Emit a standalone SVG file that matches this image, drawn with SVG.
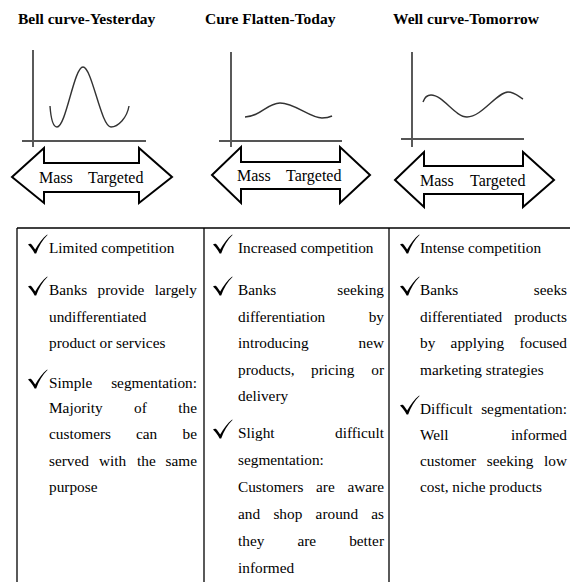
<svg xmlns="http://www.w3.org/2000/svg" width="570" height="582" viewBox="0 0 570 582">
  <style>
    text { font-family: "Liberation Serif", "DejaVu Serif", "Times New Roman", serif; fill: #000; }
    .hdr { font-weight: bold; font-size: 15.5px; }
    .body { font-size: 15.3px; }
    .lbl { font-size: 16px; }
    .end { text-anchor: end; }
    .yaxis { stroke: #000; stroke-width: 1.3; fill: none; }
    .xaxis { stroke: #555; stroke-width: 2; fill: none; }
    .curve { stroke: #333; stroke-width: 1.4; fill: none; }
    .dbl { fill: #fff; stroke: #000; stroke-width: 2; stroke-linejoin: miter; }
    .grid { stroke: #000; stroke-width: 1.3; fill: none; }
  </style>
  <defs>
    <!-- check-mark bullet, origin at the lower-left of its box -->
    <path id="tick" d="M0,-8.5 C1.8,-10 3.4,-9.4 4.4,-7.6 L7.2,-3.6 C10.5,-9.5 14.5,-15 19.2,-18.6 L19.5,-18 C14.8,-13.4 10.6,-7 8.2,0.6 L6.6,0.6 C5,-3 2.6,-6 0,-8.5 Z" fill="#000"/>
  </defs>

  <!-- column 1: bell curve -->
  <g id="panel-yesterday">
    <text class="hdr" x="18" y="24">Bell curve-Yesterday</text>
    <line class="yaxis" x1="33" y1="50" x2="33" y2="147"/>
    <line class="xaxis" x1="22" y1="141" x2="146" y2="141"/>
    <path class="curve" d="M50,106 C51,120 53,127 57,127 C66,127 74,67 83,67 C92,67 101,127 111,127 C118,127 127,118 129,106"/>
    <polygon class="dbl" points="12,177 44,148 44,163 139,163 139,148 172,177 139,203 139,192 44,192 44,203"/>
    <text class="lbl" x="39" y="183">Mass</text>
    <text class="lbl" x="88" y="183">Targeted</text>
  </g>

  <!-- column 2: flattened curve -->
  <g id="panel-today">
    <text class="hdr" x="205" y="24">Cure Flatten-Today</text>
    <line class="yaxis" x1="231" y1="52" x2="231" y2="147"/>
    <line class="xaxis" x1="219" y1="141" x2="342" y2="141"/>
    <path class="curve" d="M245,117 C260,117 267,103 280,103 C295,103 310,118 322,118 C327,118 330,117 332,116"/>
    <polygon class="dbl" points="212,175 241,147 241,162 340,162 340,147 370,175 340,203 340,189 241,189 241,203"/>
    <text class="lbl" x="237" y="181">Mass</text>
    <text class="lbl" x="286" y="181">Targeted</text>
  </g>

  <!-- column 3: well curve -->
  <g id="panel-tomorrow">
    <text class="hdr" x="393" y="24">Well curve-Tomorrow</text>
    <line class="yaxis" x1="412" y1="52" x2="412" y2="147"/>
    <line class="xaxis" x1="401" y1="139" x2="524" y2="139"/>
    <path class="curve" d="M423,102 C425,96 428,95 431,95 C443,95 455,117 467,117 C482,117 497,92 508,92 C515,92 519,97 523,99"/>
    <polygon class="dbl" points="395,180 424,152 424,166 523,166 523,152 554,180 523,207 523,194 424,194 424,207"/>
    <text class="lbl" x="420" y="186">Mass</text>
    <text class="lbl" x="470" y="186">Targeted</text>
  </g>

  <!-- table frame -->
  <g id="table-grid">
    <line class="grid" x1="17" y1="228" x2="570" y2="228"/>
    <line class="grid" x1="17" y1="228" x2="17" y2="582"/>
    <line class="grid" x1="204" y1="228" x2="204" y2="582"/>
    <line class="grid" x1="389" y1="228" x2="389" y2="582"/>
  </g>

  <!-- table column 1 -->
  <g id="cell-yesterday">
    <use href="#tick" x="28" y="253"/>
    <text class="body" x="49" y="253">Limited competition</text>
    <use href="#tick" x="28" y="295"/>
    <text class="body" x="49" y="295">Banks</text>
    <text class="body" x="97.5" y="295">provide</text>
    <text class="body end" x="197" y="295">largely</text>
    <text class="body" x="49" y="322">undifferentiated</text>
    <text class="body" x="49" y="348">product or services</text>
    <use href="#tick" x="28" y="388"/>
    <text class="body" x="49" y="388">Simple</text>
    <text class="body end" x="197" y="388">segmentation:</text>
    <text class="body" x="49" y="413">Majority</text>
    <text class="body" x="134" y="413">of</text>
    <text class="body end" x="197" y="413">the</text>
    <text class="body" x="49" y="439">customers</text>
    <text class="body" x="136" y="439">can</text>
    <text class="body end" x="197" y="439">be</text>
    <text class="body" x="49" y="466">served</text>
    <text class="body" x="99" y="466">with</text>
    <text class="body" x="137" y="466">the</text>
    <text class="body end" x="197" y="466">same</text>
    <text class="body" x="49" y="492">purpose</text>
  </g>

  <!-- table column 2 -->
  <g id="cell-today">
    <use href="#tick" x="213" y="253"/>
    <text class="body" x="238" y="253">Increased competition</text>
    <use href="#tick" x="213" y="295"/>
    <text class="body" x="238" y="295">Banks</text>
    <text class="body end" x="384" y="295">seeking</text>
    <text class="body" x="238" y="322">differentiation</text>
    <text class="body end" x="384" y="322">by</text>
    <text class="body" x="238" y="348">introducing</text>
    <text class="body end" x="384" y="348">new</text>
    <text class="body" x="238" y="375">products,</text>
    <text class="body" x="311" y="375">pricing</text>
    <text class="body end" x="384" y="375">or</text>
    <text class="body" x="238" y="401">delivery</text>
    <use href="#tick" x="213" y="438"/>
    <text class="body" x="238" y="438">Slight</text>
    <text class="body end" x="384" y="438">difficult</text>
    <text class="body" x="238" y="465">segmentation:</text>
    <text class="body" x="238" y="492">Customers</text>
    <text class="body" x="316" y="492">are</text>
    <text class="body end" x="384" y="492">aware</text>
    <text class="body" x="238" y="519">and</text>
    <text class="body" x="273.4" y="519">shop</text>
    <text class="body" x="315.6" y="519">around</text>
    <text class="body end" x="384" y="519">as</text>
    <text class="body" x="238" y="546">they</text>
    <text class="body" x="297.4" y="546">are</text>
    <text class="body end" x="384" y="546">better</text>
    <text class="body" x="238" y="573">informed</text>
  </g>

  <!-- table column 3 -->
  <g id="cell-tomorrow">
    <use href="#tick" x="400" y="253"/>
    <text class="body" x="420" y="253">Intense competition</text>
    <use href="#tick" x="400" y="295"/>
    <text class="body" x="420" y="295">Banks</text>
    <text class="body end" x="567" y="295">seeks</text>
    <text class="body" x="420" y="322">differentiated</text>
    <text class="body end" x="567" y="322">products</text>
    <text class="body" x="420" y="348">by</text>
    <text class="body" x="450.6" y="348">applying</text>
    <text class="body end" x="567" y="348">focused</text>
    <text class="body" x="420" y="375">marketing strategies</text>
    <use href="#tick" x="400" y="414"/>
    <text class="body" x="420" y="414">Difficult</text>
    <text class="body end" x="567" y="414">segmentation:</text>
    <text class="body" x="420" y="440">Well</text>
    <text class="body end" x="567" y="440">informed</text>
    <text class="body" x="420" y="466">customer</text>
    <text class="body" x="486.7" y="466">seeking</text>
    <text class="body end" x="567" y="466">low</text>
    <text class="body" x="420" y="492">cost, niche products</text>
  </g>
</svg>
